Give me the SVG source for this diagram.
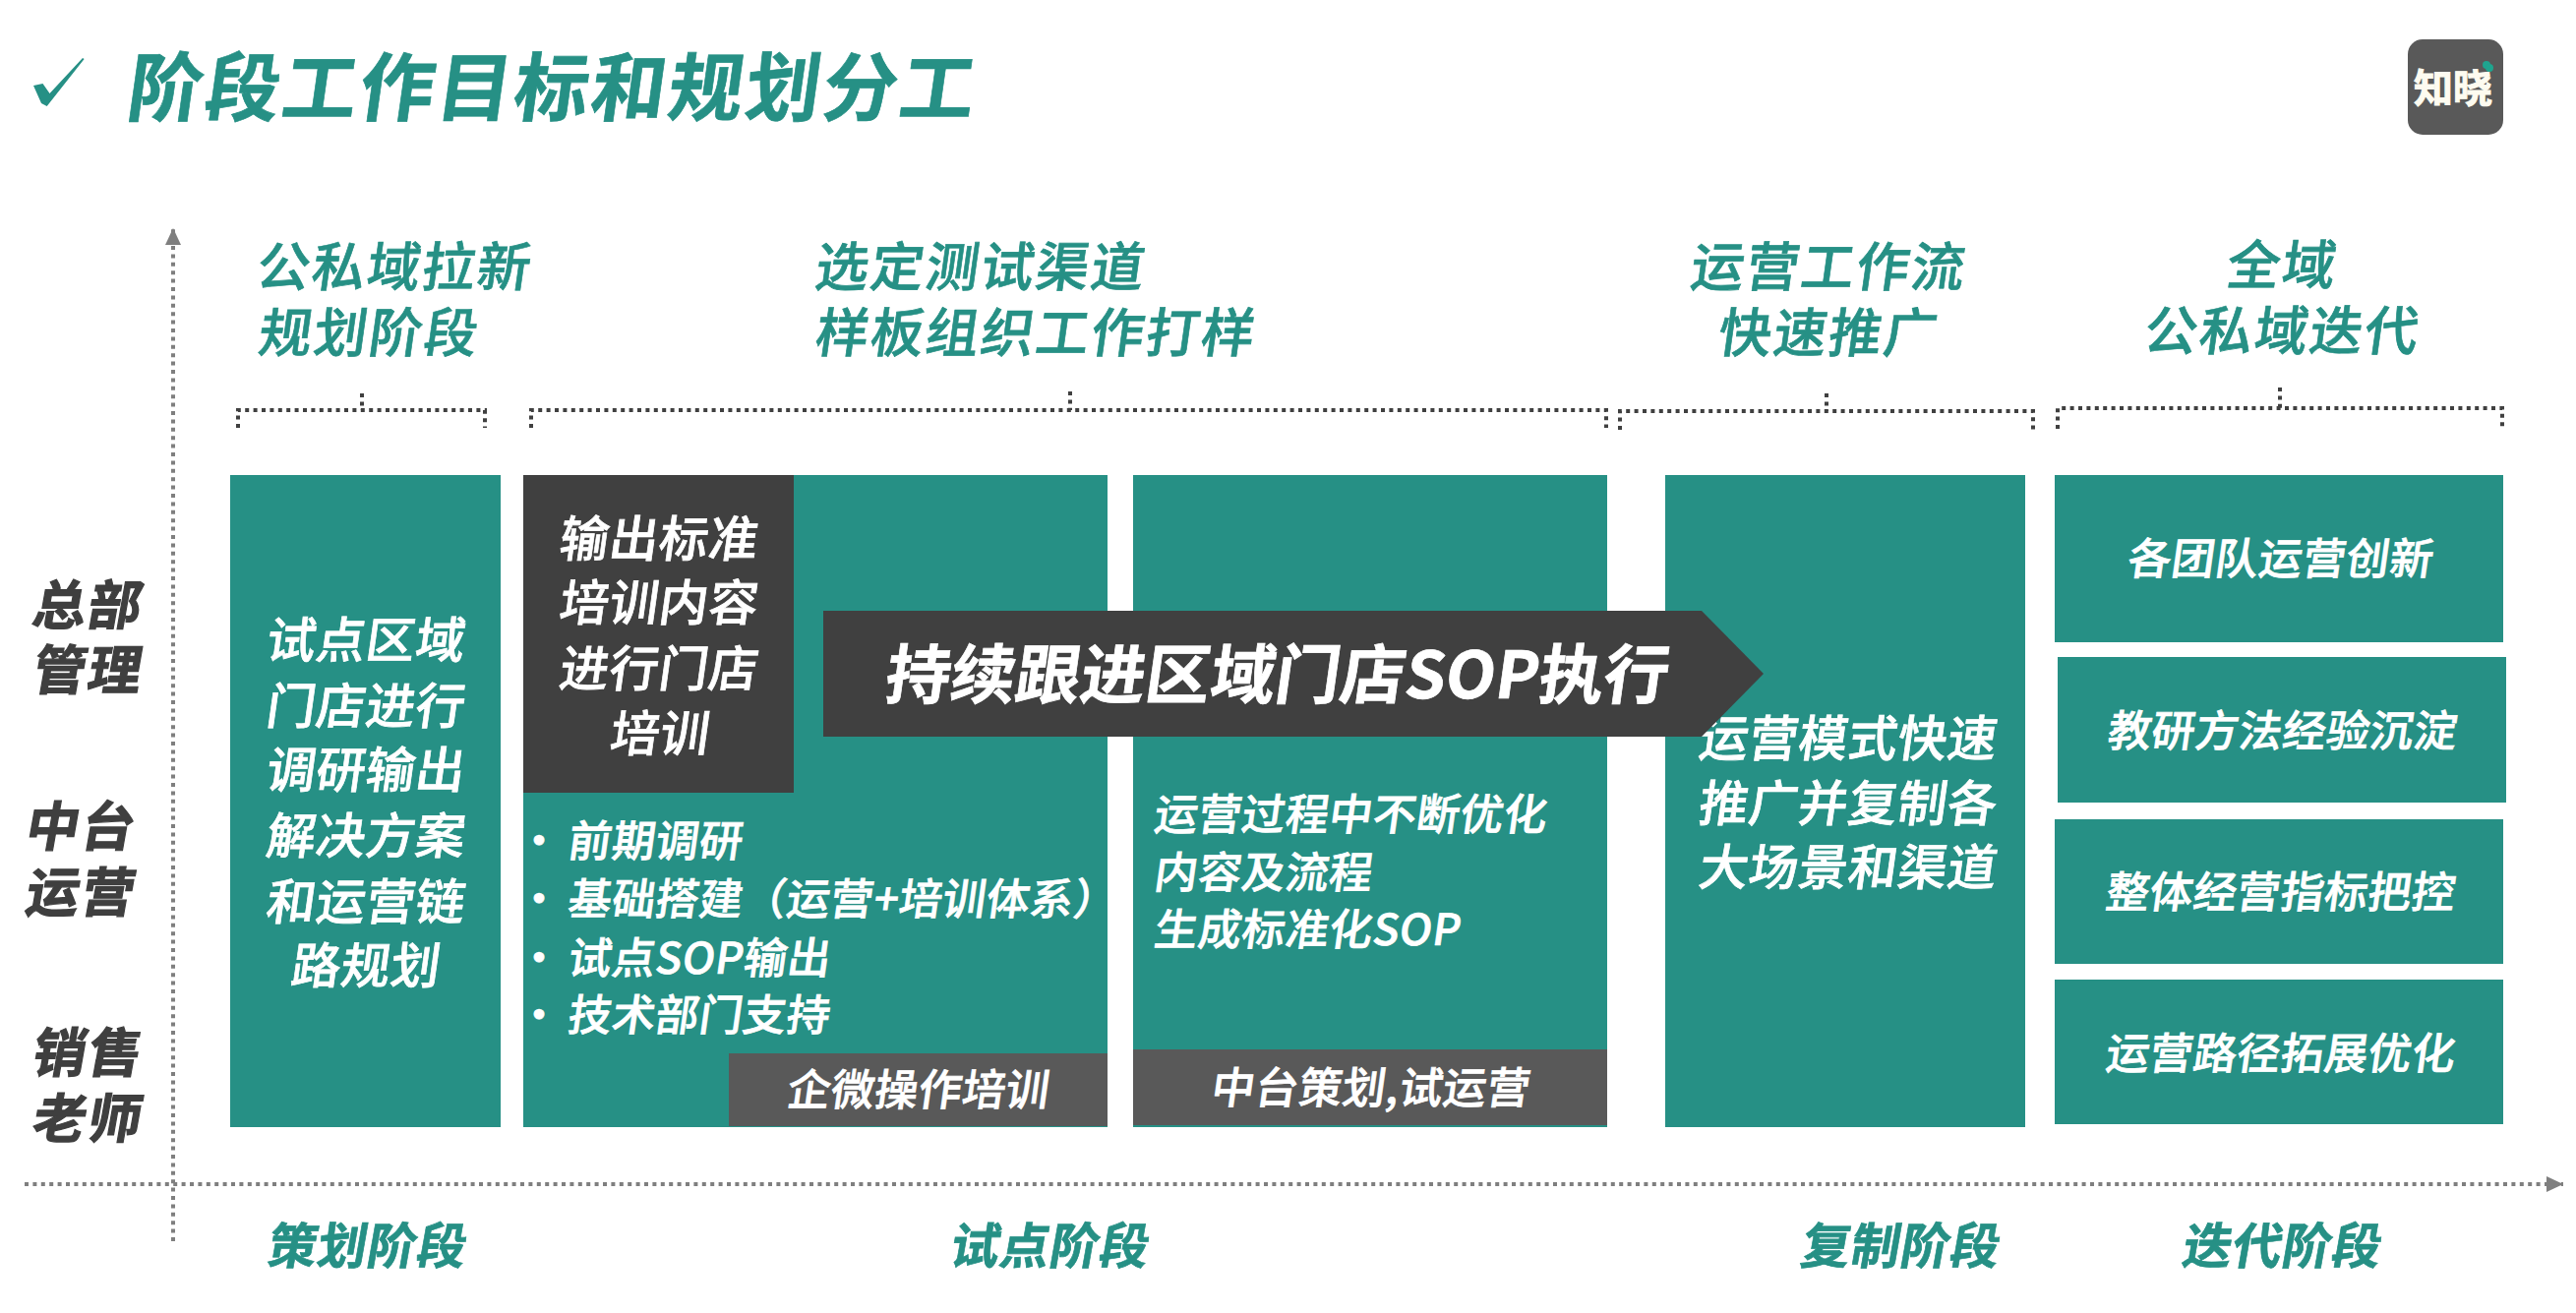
<svg xmlns="http://www.w3.org/2000/svg" width="2619" height="1335" viewBox="0 0 2619 1335">
<style>
text{font-family:"Noto Sans CJK SC","Noto Sans",sans-serif;font-weight:500}
.w{fill:#fff;stroke:#fff;stroke-width:.7}
.t{fill:#269085;stroke:#269085;stroke-width:.7}
.k{fill:#3f3f3f;stroke:#3f3f3f;stroke-width:1.2;font-weight:700;letter-spacing:2px}
.m{text-anchor:middle}
.s50{font-size:50px;letter-spacing:.5px}.s44{font-size:44px;letter-spacing:.4px}.s54{font-size:54px}
.b{font-weight:700}
.teal{fill:#269085}.dark{fill:#404040}.gray{fill:#595959}
.ax{fill:none;stroke:#7f7f7f;stroke-width:4;stroke-dasharray:4 4.400}
.br{fill:none;stroke:#404040;stroke-width:4;stroke-dasharray:4 4.400}
</style>
<defs><marker id="ah" markerUnits="userSpaceOnUse" markerWidth="20" markerHeight="18" refX="17" refY="9" orient="auto"><path d="M0 1L17 9L0 17Z" fill="#7f7f7f"/></marker></defs>
<g id="title">
<path class="teal" d="M34 87L43.500 85L50.500 95L84 59L85.600 60L47.700 108L42 105Z"/>
<text class="t b" font-size="76" letter-spacing="2.500" stroke-width="1.500" transform="translate(127,117) skewX(-8)">阶段工作目标和规划分工</text>
</g>
<g id="logo">
<rect class="gray" x="2448" y="40" width="97" height="97" rx="15"/>
<text class="b" font-size="40" fill="#fdfbf0" stroke="#fdfbf0" stroke-width="1" text-anchor="middle" transform="translate(2494,104)">知晓</text>
<circle cx="2528" cy="66" r="4" fill="#1fa58f"/><circle cx="2531" cy="69" r="4" fill="#1fa58f"/>
</g>
<g id="connectors">
<path class="ax" d="M176 1262V232" marker-end="url(#ah)"/>
<path class="ax" d="M25 1204H2606" marker-end="url(#ah)"/>
<path class="br" d="M242 435V417H493V435M368 400V417"/>
<path class="br" d="M540 435V417H1633V435M1088 398V417"/>
<path class="br" d="M1647 437V418H2067V437M1857 400V418"/>
<path class="br" d="M2092 436V415H2544V436M2318 394V415"/>
</g>
<g id="axis-labels">
<text class="k s54 m" transform="translate(87,635) skewX(-10)">总部</text>
<text class="k s54 m" transform="translate(87,701) skewX(-10)">管理</text>
<text class="k s54 m" transform="translate(80,860) skewX(-10)">中台</text>
<text class="k s54 m" transform="translate(80,927) skewX(-10)">运营</text>
<text class="k s54 m" transform="translate(87,1090) skewX(-10)">销售</text>
<text class="k s54 m" transform="translate(87,1157) skewX(-10)">老师</text>
</g>
<g id="header-1">
<text class="t s54" letter-spacing="2" transform="translate(259,291) skewX(-8)">公私域拉新</text>
<text class="t s54" letter-spacing="2" transform="translate(261,358) skewX(-8)">规划阶段</text>
</g>
<g id="header-2">
<text class="t s54" letter-spacing="2" transform="translate(827,291) skewX(-8)">选定测试渠道</text>
<text class="t s54" letter-spacing="2" transform="translate(827,358) skewX(-8)">样板组织工作打样</text>
</g>
<g id="header-3">
<text class="t s54 m" letter-spacing="2" transform="translate(1857,291) skewX(-8)">运营工作流</text>
<text class="t s54 m" letter-spacing="2" transform="translate(1857,358) skewX(-8)">快速推广</text>
</g>
<g id="header-4">
<text class="t s54 m" letter-spacing="2" transform="translate(2318,289) skewX(-8)">全域</text>
<text class="t s54 m" letter-spacing="2" transform="translate(2318,356) skewX(-8)">公私域迭代</text>
</g>
<g id="col-1">
<rect class="teal" x="234" y="483" width="275" height="663"/>
<text class="w s50 m" transform="translate(370,669) skewX(-8)">试点区域</text>
<text class="w s50 m" transform="translate(370,736) skewX(-8)">门店进行</text>
<text class="w s50 m" transform="translate(370,801) skewX(-8)">调研输出</text>
<text class="w s50 m" transform="translate(370,868) skewX(-8)">解决方案</text>
<text class="w s50 m" transform="translate(370,935) skewX(-8)">和运营链</text>
<text class="w s50 m" transform="translate(370,1000) skewX(-8)">路规划</text>
</g>
<g id="col-2">
<rect class="teal" x="532" y="483" width="594" height="663"/>
<rect class="dark" x="532" y="483" width="275" height="323"/>
<text class="w s50 m" transform="translate(668,566) skewX(-8)">输出标准</text>
<text class="w s50 m" transform="translate(668,631) skewX(-8)">培训内容</text>
<text class="w s50 m" transform="translate(668,698) skewX(-8)">进行门店</text>
<text class="w s50 m" transform="translate(669,764) skewX(-8)">培训</text>
<text class="w s44" x="526" y="871">•</text>
<text class="w s44" x="526" y="930">•</text>
<text class="w s44" x="526" y="990">•</text>
<text class="w s44" x="526" y="1048">•</text>
<text class="w s44" transform="translate(576,871) skewX(-8)">前期调研</text>
<text class="w s44" transform="translate(576,930) skewX(-8)">基础搭建（运营+培训体系）</text>
<text class="w s44" transform="translate(576,990) skewX(-8)">试点SOP输出</text>
<text class="w s44" transform="translate(576,1048) skewX(-8)">技术部门支持</text>
<rect class="gray" x="741" y="1071" width="385" height="74"/>
<text class="w s44 m" transform="translate(932,1124) skewX(-8)">企微操作培训</text>
</g>
<g id="col-3">
<rect class="teal" x="1152" y="483" width="482" height="663"/>
<text class="w s44" transform="translate(1172,844) skewX(-8)">运营过程中不断优化</text>
<text class="w s44" transform="translate(1172,903) skewX(-8)">内容及流程</text>
<text class="w s44" transform="translate(1172,961) skewX(-8)">生成标准化SOP</text>
<rect class="gray" x="1152" y="1067" width="482" height="77"/>
<text class="w s44 m" transform="translate(1392,1122) skewX(-8)">中台策划,试运营</text>
</g>
<g id="col-4">
<rect class="teal" x="1693" y="483" width="366" height="663"/>
<text class="w s50 m" transform="translate(1877,769) skewX(-8)">运营模式快速</text>
<text class="w s50 m" transform="translate(1877,835) skewX(-8)">推广并复制各</text>
<text class="w s50 m" transform="translate(1877,900) skewX(-8)">大场景和渠道</text>
</g>
<g id="sop-arrow">
<path class="dark" d="M837 621H1730L1793 685L1730 749H837Z"/>
<text class="w b" font-size="66" transform="translate(898,710) skewX(-8)">持续跟进区域门店SOP执行</text>
</g>
<g id="box-1"><rect class="teal" x="2089" y="483" width="456" height="170"/><text class="w s44 m" transform="translate(2317,584) skewX(-8)">各团队运营创新</text></g>
<g id="box-2"><rect class="teal" x="2092" y="668" width="456" height="148"/><text class="w s44 m" transform="translate(2319,759) skewX(-8)">教研方法经验沉淀</text></g>
<g id="box-3"><rect class="teal" x="2089" y="833" width="456" height="147"/><text class="w s44 m" transform="translate(2317,923) skewX(-8)">整体经营指标把控</text></g>
<g id="box-4"><rect class="teal" x="2089" y="996" width="456" height="147"/><text class="w s44 m" transform="translate(2317,1087) skewX(-8)">运营路径拓展优化</text></g>
<g id="phases">
<text class="t b s50 m" transform="translate(371,1285) skewX(-10)">策划阶段</text>
<text class="t b s50 m" transform="translate(1065,1285) skewX(-10)">试点阶段</text>
<text class="t b s50 m" transform="translate(1930,1285) skewX(-10)">复制阶段</text>
<text class="t b s50 m" transform="translate(2318,1285) skewX(-10)">迭代阶段</text>
</g>
</svg>
